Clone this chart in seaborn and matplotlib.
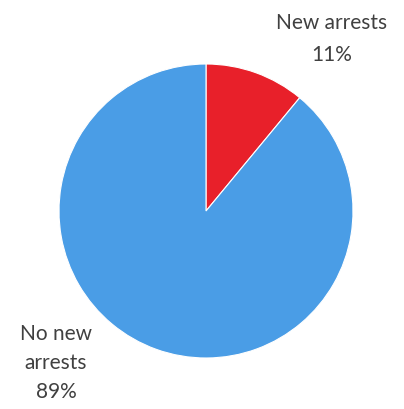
import matplotlib
matplotlib.use('Agg')
import matplotlib.pyplot as plt
import seaborn as sns

# Datos del gráfico
categorias = ['New arrests', 'No new arrests']
porcentajes = [11, 89]
colores = ['#e8202a', '#4a9de6']

sns.set_theme(style='white')
plt.rcParams['font.family'] = ['Lato', 'DejaVu Sans']

fig = plt.figure(figsize=(4.04, 4.09), dpi=100)
ax = fig.add_axes([59 / 404, (409 - 358) / 409, 294 / 404, 294 / 409])

ax.pie(porcentajes, colors=colores, startangle=90, counterclock=False,
       radius=1, wedgeprops=dict(edgecolor='white', linewidth=0.8))
ax.set_xlim(-1, 1)
ax.set_ylim(-1, 1)
ax.set_aspect('auto')
ax.axis('off')

# Etiquetas
color_texto = '#404040'
fig.text(332 / 404, 1 - 39 / 409, f'{categorias[0]}\n{porcentajes[0]}%',
         ha='center', va='center', fontsize=15, color=color_texto, linespacing=1.75)
fig.text(56 / 404, 1 - 363 / 409, f'No new\narrests\n{porcentajes[1]}%',
         ha='center', va='center', fontsize=15, color=color_texto, linespacing=1.55)

fig.savefig('out.png', dpi=100)
